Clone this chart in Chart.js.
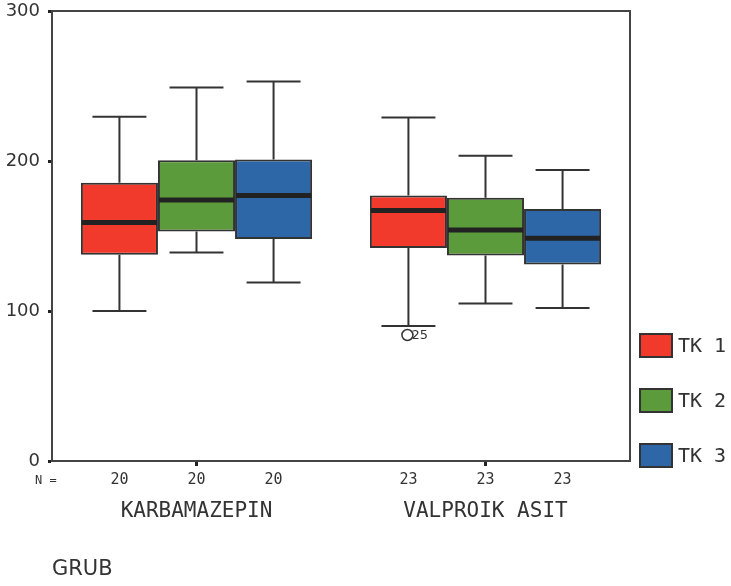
<!DOCTYPE html>
<html>
<head>
<meta charset="utf-8">
<script src="https://cdn.jsdelivr.net/npm/chart.js@4"></script>
<style>
  html, body { margin: 0; padding: 0; background: #fff; }
  #wrap { width: 731px; height: 586px; position: relative; }
</style>
</head>
<body>
<div id="wrap"><canvas id="chart"></canvas></div>
<script>
// Groups on the x axis and the three series (TK 1..3)
const groups = ['KARBAMAZEPIN', 'VALPROIK ASIT'];
const seriesNames = ['TK 1', 'TK 2', 'TK 3'];
const groupCounts = [20, 23];
const yTicks = [0, 100, 200, 300];

// Box plot statistics per series, one value per group
const tk1Min = [100, 90];
const tk1Q1 = [137.5, 142];
const tk1Median = [159, 167];
const tk1Q3 = [185.5, 177];
const tk1Max = [229.5, 229];

const tk2Min = [139, 105];
const tk2Q1 = [153, 137];
const tk2Median = [174, 154];
const tk2Q3 = [200.5, 175.5];
const tk2Max = [249, 203.5];

const tk3Min = [119, 102];
const tk3Q1 = [148, 131];
const tk3Median = [177, 148.5];
const tk3Q3 = [201, 168];
const tk3Max = [253, 194];

// Outliers: series index, group index, value, case label
const outlierSeries = [0];
const outlierGroup = [1];
const outlierValue = [84];
const outlierLabel = ['25'];

const seriesColors = ['#f23a2c', '#5c9b3c', '#2e67a8'];
const inkColor = '#333333';

const stats = [
  { min: tk1Min, q1: tk1Q1, med: tk1Median, q3: tk1Q3, max: tk1Max },
  { min: tk2Min, q1: tk2Q1, med: tk2Median, q3: tk2Q3, max: tk2Max },
  { min: tk3Min, q1: tk3Q1, med: tk3Median, q3: tk3Q3, max: tk3Max }
];

// Whiskers, medians, N row, outliers, frame and legend
const boxPlotExtras = {
  id: 'boxPlotExtras',
  afterDatasetsDraw(chart) {
    const ctx = chart.ctx;
    const y = chart.scales.y;
    const area = chart.chartArea;
    ctx.save();
    ctx.strokeStyle = inkColor;
    ctx.fillStyle = inkColor;

    chart.data.datasets.forEach((ds, d) => {
      const meta = chart.getDatasetMeta(d);
      const s = stats[d];
      meta.data.forEach((bar, i) => {
        const x = bar.x;
        const half = bar.width / 2;
        const cap = half * 0.7;

        ctx.lineWidth = 2;
        ctx.beginPath();
        ctx.moveTo(x, y.getPixelForValue(s.q3[i]));
        ctx.lineTo(x, y.getPixelForValue(s.max[i]));
        ctx.moveTo(x - cap, y.getPixelForValue(s.max[i]));
        ctx.lineTo(x + cap, y.getPixelForValue(s.max[i]));
        ctx.moveTo(x, y.getPixelForValue(s.q1[i]));
        ctx.lineTo(x, y.getPixelForValue(s.min[i]));
        ctx.moveTo(x - cap, y.getPixelForValue(s.min[i]));
        ctx.lineTo(x + cap, y.getPixelForValue(s.min[i]));
        ctx.stroke();

        // median
        ctx.strokeStyle = '#222';
        ctx.lineWidth = 5;
        ctx.beginPath();
        ctx.moveTo(x - half + 1, y.getPixelForValue(s.med[i]));
        ctx.lineTo(x + half - 1, y.getPixelForValue(s.med[i]));
        ctx.stroke();
        ctx.strokeStyle = inkColor;

        // N per box
        ctx.font = '15px "DejaVu Sans Mono"';
        ctx.textAlign = 'center';
        ctx.textBaseline = 'middle';
        ctx.fillText(String(groupCounts[i]), x, area.bottom + 19);
      });
    });

    // outliers
    outlierValue.forEach((v, k) => {
      const bar = chart.getDatasetMeta(outlierSeries[k]).data[outlierGroup[k]];
      const py = y.getPixelForValue(v);
      ctx.lineWidth = 1.5;
      ctx.beginPath();
      ctx.arc(bar.x - 1, py, 5.5, 0, Math.PI * 2);
      ctx.stroke();
      ctx.font = '13px "DejaVu Sans"';
      ctx.textAlign = 'left';
      ctx.textBaseline = 'middle';
      ctx.fillText(outlierLabel[k], bar.x + 3, py + 1);
    });

    // frame
    ctx.lineWidth = 2;
    ctx.strokeStyle = '#444';
    ctx.strokeRect(area.left, area.top, area.right - area.left, area.bottom - area.top);

    // N = label
    ctx.font = '12px "DejaVu Sans Mono"';
    ctx.textAlign = 'left';
    ctx.textBaseline = 'middle';
    ctx.fillText('N =', 35, area.bottom + 20);

    // legend
    chart.data.datasets.forEach((ds, d) => {
      const top = 334 + d * 55;
      ctx.fillStyle = ds.backgroundColor;
      ctx.fillRect(640, top, 32, 23);
      ctx.lineWidth = 2;
      ctx.strokeStyle = inkColor;
      ctx.strokeRect(640, top, 32, 23);
      ctx.fillStyle = inkColor;
      ctx.font = '20px "DejaVu Sans Mono"';
      ctx.textAlign = 'left';
      ctx.textBaseline = 'middle';
      ctx.fillText(ds.label, 678, top + 13);
    });
    ctx.restore();
  }
};

const datasets = seriesNames.map((name, d) => ({
  label: name,
  data: groups.map((g, i) => [stats[d].q1[i], stats[d].q3[i]]),
  backgroundColor: seriesColors[d],
  borderColor: inkColor,
  borderWidth: 2,
  borderSkipped: false,
  categoryPercentage: 0.8,
  barPercentage: 1.0
}));

new Chart(document.getElementById('chart'), {
  type: 'bar',
  data: { labels: groups, datasets },
  options: {
    responsive: true,
    maintainAspectRatio: false,
    animation: false,
    layout: { padding: { top: 11, right: 101, left: 0, bottom: 0 } },
    plugins: {
      legend: { display: false },
      tooltip: { enabled: false }
    },
    scales: {
      x: {
        grid: { drawOnChartArea: false, offset: false, tickLength: 5, tickWidth: 3, tickColor: '#222' },
        border: { display: true, color: '#444', width: 2 },
        ticks: { color: inkColor, padding: 33, font: { family: 'DejaVu Sans Mono', size: 21 } },
        title: {
          display: true,
          text: 'GRUB',
          align: 'start',
          color: inkColor,
          font: { family: 'DejaVu Sans', size: 21 },
          padding: { top: 0, bottom: 4 }
        },
        afterFit(scale) {
          scale.height = 125;
          scale.paddingLeft = 0;
          scale.paddingRight = 0;
        }
      },
      y: {
        min: 0,
        max: 300,
        afterBuildTicks(scale) { scale.ticks = yTicks.map(v => ({ value: v })); },
        grid: { drawOnChartArea: false, tickLength: 4, tickWidth: 3, tickColor: '#222' },
        border: { display: true, color: '#444', width: 2 },
        ticks: { color: inkColor, padding: 8, font: { family: 'DejaVu Sans', size: 18 } },
        afterFit(scale) {
          scale.width = 52;
          scale.paddingTop = 0;
          scale.paddingBottom = 0;
        }
      }
    }
  },
  plugins: [boxPlotExtras]
});
</script>
</body>
</html>
